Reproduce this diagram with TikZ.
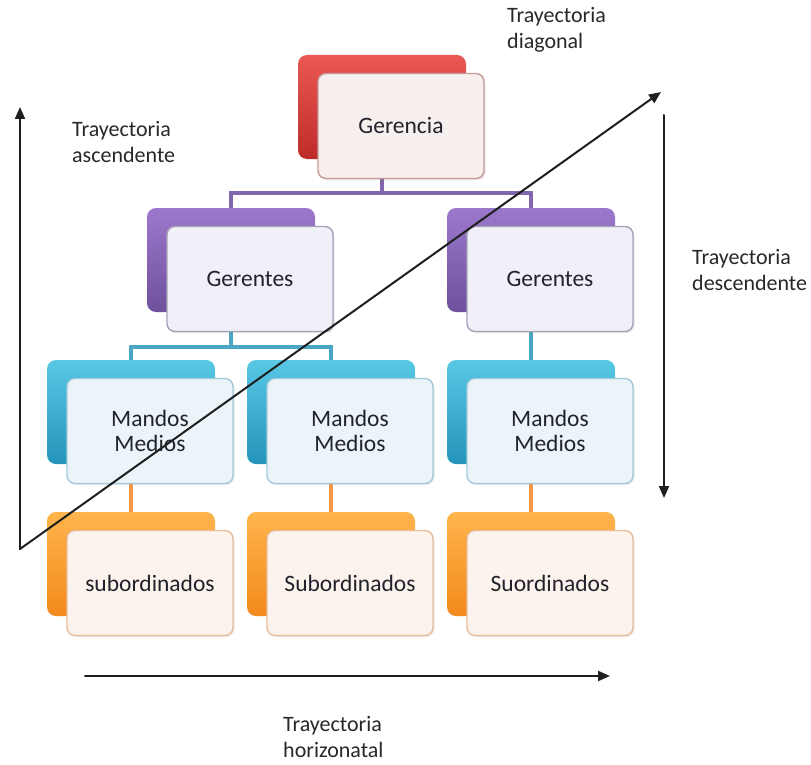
\documentclass[tikz,border=0pt]{standalone}
\usepackage{fontspec}
\setmainfont{Carlito}
\usetikzlibrary{arrows.meta,shadows}

% level colours: A/B = gradient of the back card, F = front fill, E = front edge, C = connector
\definecolor{gerA}{RGB}{234,88,84}
\definecolor{gerB}{RGB}{190,44,42}
\definecolor{gerF}{RGB}{247,238,238}
\definecolor{gerE}{RGB}{198,152,152}
\definecolor{mgrA}{RGB}{156,120,204}
\definecolor{mgrB}{RGB}{110,80,156}
\definecolor{mgrF}{RGB}{241,239,247}
\definecolor{mgrE}{RGB}{166,162,182}
\definecolor{mgrC}{RGB}{130,102,172}
\definecolor{midA}{RGB}{88,200,230}
\definecolor{midB}{RGB}{36,148,186}
\definecolor{midF}{RGB}{235,244,248}
\definecolor{midE}{RGB}{162,202,220}
\definecolor{midC}{RGB}{75,166,196}
\definecolor{subA}{RGB}{255,180,76}
\definecolor{subB}{RGB}{242,138,28}
\definecolor{subF}{RGB}{251,243,236}
\definecolor{subE}{RGB}{234,188,152}
\definecolor{subC}{RGB}{246,152,70}
\definecolor{txt}{RGB}{34,34,44}
\definecolor{lbltxt}{RGB}{40,40,40}

\tikzset{
  backbox/.style={rounded corners=9pt, minimum width=168pt, minimum height=104pt,
    inner sep=0pt, top color=#1A, bottom color=#1B, draw=none},
  frontbox/.style={rounded corners=8pt, minimum width=166pt, minimum height=105pt,
    inner sep=0pt, fill=#1F, draw=#1E, line width=1.4pt, text=txt, align=center,
    font=\fontsize{23.5}{25}\selectfont,
    drop shadow={opacity=0.18, shadow xshift=1.5pt, shadow yshift=-1.5pt}},
  conn/.style={draw=#1, line width=4pt},
  traj/.style={draw=black!88, line width=2pt, line cap=round,
    -{Triangle[length=12pt,width=10pt]}},
  lbl/.style={anchor=west, align=left, text=lbltxt, inner sep=0pt,
    font=\fontsize{22}{26.5}\selectfont}
}

\begin{document}
\begin{tikzpicture}[x=1pt,y=-1pt]
\useasboundingbox (0,0) rectangle (811,765);

% back cards
\node[backbox=ger] (gb)  at (382,107) {};
\node[backbox=mgr] (m1b) at (231,260) {};
\node[backbox=mgr] (m2b) at (531,260) {};
\node[backbox=mid] (d1b) at (131,412) {};
\node[backbox=mid] (d2b) at (331,412) {};
\node[backbox=mid] (d3b) at (531,412) {};
\node[backbox=sub] (s1b) at (131,564) {};
\node[backbox=sub] (s2b) at (331,564) {};
\node[backbox=sub] (s3b) at (531,564) {};

% connectors between levels
\coordinate (bus1) at (0,193);
\coordinate (bus2) at (0,347);
\draw[conn=mgrC] (gb.south) -- (gb.south |- bus1) -| (m1b.north);
\draw[conn=mgrC] (gb.south |- bus1) -| (m2b.north);
\draw[conn=midC] (m1b.south) -- (m1b.south |- bus2) -| (d1b.north);
\draw[conn=midC] (m1b.south |- bus2) -| (d2b.north);
\draw[conn=midC] (m2b.south) -- (d3b.north);
\draw[conn=subC] (d1b.south) -- (s1b.north);
\draw[conn=subC] (d2b.south) -- (s2b.north);
\draw[conn=subC] (d3b.south) -- (s3b.north);

% front cards with the texts
\node[frontbox=ger] (g)  at (401,126) {Gerencia};
\node[frontbox=mgr] (m1) at (250,279) {Gerentes};
\node[frontbox=mgr] (m2) at (550,279) {Gerentes};
\node[frontbox=mid] (d1) at (150,431) {Mandos\\Medios};
\node[frontbox=mid] (d2) at (350,431) {Mandos\\Medios};
\node[frontbox=mid] (d3) at (550,431) {Mandos\\Medios};
\node[frontbox=sub] (s1) at (150,583) {subordinados};
\node[frontbox=sub] (s2) at (350,583) {Subordinados};
\node[frontbox=sub] (s3) at (550,583) {Suordinados};

% trajectory arrows
\coordinate (ascS)  at (20,549);
\coordinate (ascE)  at (20,107);
\coordinate (diagE) at (661,92);
\coordinate (descS) at (664,115);
\coordinate (descE) at (664,498);
\coordinate (horS)  at (85,676);
\coordinate (horE)  at (610,676);
\draw[traj] (ascS) -- (ascE);
\draw[traj] (ascS) -- (diagE);
\draw[traj] (descS) -- (descE);
\draw[traj] (horS) -- (horE);

% trajectory labels
\node[lbl] (lasc)  at (72,142)  {Trayectoria\\ascendente};
\node[lbl] (ldiag) at (507,30)  {Trayectoria\\diagonal};
\node[lbl] (ldesc) at (692,270) {Trayectoria\\descendente};
\node[lbl] (lhor)  at (283,737) {Trayectoria\\horizonatal};
\end{tikzpicture}
\end{document}
